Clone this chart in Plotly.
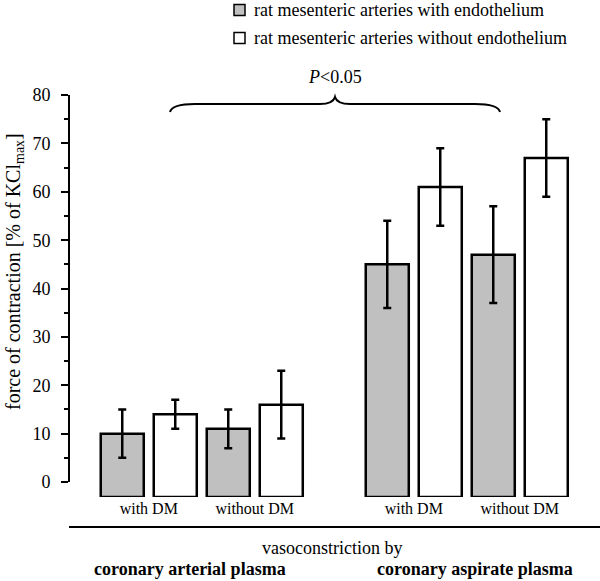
import plotly.graph_objects as go

# ---- data ----
groups = ["coronary arterial plasma", "coronary aspirate plasma"]
categories = ["with DM", "without DM", "with DM", "without DM"]
cat_group = [0, 0, 1, 1]
series_names = ["rat mesenteric arteries with endothelium",
                "rat mesenteric arteries without endothelium"]
with_endo = [10, 11, 45, 47]
with_endo_err = [5, 4, 9, 10]
without_endo = [14, 16, 61, 67]
without_endo_err = [3, 7, 8, 8]
y_ticks = [0, 10, 20, 30, 40, 50, 60, 70, 80]

# ---- layout geometry ----
W, H = 600, 581
L, R, T, B = 69, 0, 95, 84
PW, PH = W - L - R, H - T - B
X_RANGE = [-0.7524, -0.7524 + PW / 106.0]
BASE = -3.1                     # bars are drawn from slightly below the zero tick
Y_RANGE = [BASE, 80.02]
FONT = "Liberation Serif, Times New Roman, serif"

def px(xp):
    return (xp - L) / PW

def py(yp):
    return (H - B - yp) / PH

# category centres: one unit apart inside a group, 1.5 units between groups
xpos = [i + 0.5 * g for i, g in enumerate(cat_group)]

BAR_W = 0.406
fig = go.Figure()
for vals, errs, name, fill, off in [
        (with_endo, with_endo_err, series_names[0], "#c0c0c0", -0.453),
        (without_endo, without_endo_err, series_names[1], "white", 0.047)]:
    fig.add_trace(go.Bar(
        x=xpos, y=[v - BASE for v in vals], base=BASE, name=name,
        width=BAR_W, offset=off,
        marker=dict(color=fill, line=dict(color="black", width=2.5)),
        error_y=dict(type="data", array=errs, color="black", thickness=2.5, width=4),
        showlegend=False))

shapes = []
annotations = []

# y axis line from 0 to 80 only
shapes.append(dict(type="line", xref="paper", yref="y", x0=0, x1=0, y0=0, y1=80,
                   line=dict(color="black", width=2)))
# bottom separator line
shapes.append(dict(type="line", xref="paper", yref="paper", x0=px(69), x1=px(600),
                   y0=py(527), y1=py(527), line=dict(color="black", width=2)))

# curly brace
def P(a, b):
    return f"{px(a):.5f},{py(b):.5f}"
brace = (f"M {P(170,112)} Q {P(172,104)} {P(195,104)} L {P(320,104)} "
         f"Q {P(333,104)} {P(335,97)} Q {P(337,104)} {P(350,104)} "
         f"L {P(475,104)} Q {P(498,104)} {P(500,112)}")
shapes.append(dict(type="path", xref="paper", yref="paper", path=brace,
                   line=dict(color="black", width=2)))

annotations.append(dict(xref="paper", yref="paper", x=px(335), y=py(77),
                        text="<i>P</i>&lt;0.05", showarrow=False,
                        font=dict(family=FONT, size=18, color="black"),
                        xanchor="center", yanchor="middle"))

# custom legend
fills = ["#c0c0c0", "white"]
for k, (name, fill) in enumerate(zip(series_names, fills)):
    yc = 10 + 28 * k
    shapes.append(dict(type="rect", xref="paper", yref="paper",
                       x0=px(234), x1=px(245), y0=py(yc - 5.5), y1=py(yc + 5.5),
                       fillcolor=fill, line=dict(color="black", width=1.5)))
    annotations.append(dict(xref="paper", yref="paper", x=px(252), y=py(yc),
                            text=name, showarrow=False, xanchor="left", yanchor="middle",
                            font=dict(family=FONT, size=18, color="black")))

# y axis title
annotations.append(dict(xref="paper", yref="paper", x=px(14), y=py(272),
                        text="force of contraction [% of KCl<sub>max</sub>]",
                        textangle=-90, showarrow=False, xanchor="center", yanchor="middle",
                        font=dict(family=FONT, size=20, color="black")))

# bottom texts
annotations.append(dict(xref="paper", yref="paper", x=px(332), y=py(548),
                        text="vasoconstriction by", showarrow=False,
                        xanchor="center", yanchor="middle",
                        font=dict(family=FONT, size=18, color="black")))
for g, xc in zip(groups, [190, 475]):
    annotations.append(dict(xref="paper", yref="paper", x=px(xc), y=py(569),
                            text=f"<b>{g}</b>", showarrow=False,
                            xanchor="center", yanchor="middle",
                            font=dict(family=FONT, size=18, color="black")))

fig.update_layout(
    width=W, height=H,
    margin=dict(l=L, r=R, t=T, b=B, pad=0),
    paper_bgcolor="white", plot_bgcolor="white",
    barmode="overlay",
    shapes=shapes, annotations=annotations,
    xaxis=dict(range=X_RANGE, tickvals=xpos, ticktext=categories, ticks="",
               showline=False, showgrid=False, zeroline=False,
               tickfont=dict(family=FONT, size=16, color="black")),
    yaxis=dict(range=Y_RANGE, tickvals=y_ticks, ticks="outside", ticklen=7,
               tickwidth=2, tickcolor="black", showline=False, showgrid=False,
               zeroline=False, ticklabelstandoff=7,
               minor=dict(ticks="outside", ticklen=4, tickwidth=2, tickcolor="black",
                          tick0=5, dtick=10),
               tickfont=dict(family=FONT, size=18, color="black")),
)

fig.write_html("out.html", config={"displayModeBar": False},
               post_script="document.body.style.margin='0';")
